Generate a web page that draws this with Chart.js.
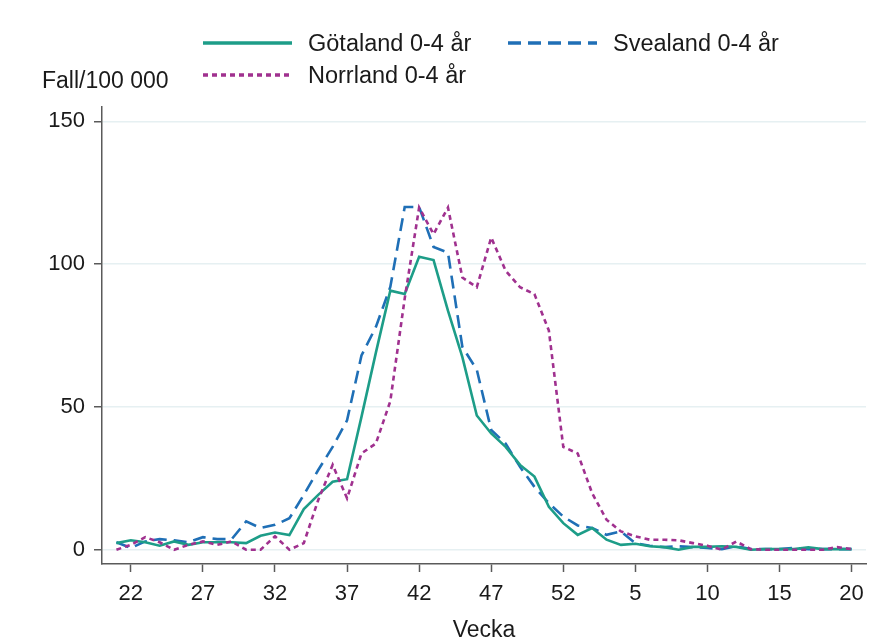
<!DOCTYPE html>
<html lang="sv">
<head>
<meta charset="utf-8">
<title>Fall/100 000 0-4 år</title>
<script src="https://cdn.jsdelivr.net/npm/chart.js@4.4.1/dist/chart.umd.min.js"></script>
<style>
    html, body { margin: 0; padding: 0; background: #fff; }
    #wrap { position: relative; width: 873px; height: 644px; font-family: "Liberation Sans", Arial, sans-serif; color: #1a1a1a; }
    #chart { position: absolute; left: 0; top: 0; }
    .legend-item { position: absolute; display: flex; align-items: center; font-size: 23.5px; white-space: nowrap; }
    .legend-item svg { margin-right: 16px; }
    #ytitle { position: absolute; left: 42px; top: 67px; font-size: 23px; }
</style>
</head>
<body>
<div id="wrap">
    <canvas id="chart" width="873" height="644"></canvas>
    <div id="ytitle">Fall/100 000</div>
    <div id="legend"></div>
</div>
<script>
// veckor 21-52 och 1-20
const weeks = [21, 22, 23, 24, 25, 26, 27, 28, 29, 30, 31, 32, 33, 34, 35, 36, 37, 38, 39, 40,
    41, 42, 43, 44, 45, 46, 47, 48, 49, 50, 51, 52, 1, 2, 3, 4, 5, 6, 7, 8,
    9, 10, 11, 12, 13, 14, 15, 16, 17, 18, 19, 20];

const gotaland = [2.3, 3.3, 2.6, 1.4, 2.9, 1.7, 2.6, 2.6, 2.6, 2.3, 4.9, 6.0, 5.1, 14.2, 19.2, 23.8, 24.7, 46.5, 69, 90.7,
    89.5, 102.6, 101.4, 83.7, 67.4, 47, 40.7, 36, 29.7, 25.6, 15, 9.3, 5.2, 7.6, 3.5, 1.7, 2.1, 1.2, 0.9, 0,
    1, 1, 1.2, 1, 0, 0.2, 0.2, 0.2, 0.8, 0.2, 0.2, 0.2];

const svealand = [2.6, 0.6, 2.9, 3.7, 3.3, 2.6, 4.4, 3.7, 3.7, 9.9, 7.6, 8.7, 11, 19.2, 27.9, 36, 45.3, 68, 78, 92,
    120, 120, 106, 104, 71, 63, 41.9, 37.2, 29, 22, 16.3, 11.6, 8.5, 7.6, 5.2, 6.4, 2.3, 1.4, 0.9, 1.2,
    0.9, 0.6, 0.2, 1.2, 0.2, 0.2, 0.2, 0.6, 0.2, 0.2, 0.2, 0.2];

const norrland = [0, 1.7, 4.4, 2.6, 0, 1.7, 2.9, 1.7, 2.9, 0, 0, 4.7, 0, 2.3, 17.4, 29.7, 18, 33.7, 37.2, 52,
    88, 119.8, 110.5, 119.8, 95.3, 91.9, 109.3, 97.7, 91.9, 89.5, 76.7, 36, 33.7, 19.8, 10.5, 6.4, 4.7, 3.5, 3.5, 3.3,
    2.3, 1.4, 0, 2.9, 0.2, 0, 0, 0, 0, 0, 0.9, 0.2];

const xTickLabels = [22, 27, 32, 37, 42, 47, 52, 5, 10, 15, 20];
const yTickLabels = [0, 50, 100, 150];

const seriesNames = ['Götaland 0-4 år', 'Svealand 0-4 år', 'Norrland 0-4 år'];
const seriesColors = ['#1d9d88', '#1f6fb6', '#a0318f'];
const seriesDash = [[], [13, 7], [5, 4]];

const FONT = '"Liberation Sans", Arial, sans-serif';
const AXIS_COLOR = '#5a5a5a';

function toPoints(values) {
    return values.map((v, i) => ({ x: i, y: v }));
}

const datasets = [gotaland, svealand, norrland].map((values, i) => ({
    label: seriesNames[i],
    data: toPoints(values),
    borderColor: seriesColors[i],
    backgroundColor: seriesColors[i],
    borderWidth: 2.6,
    borderDash: seriesDash[i],
    pointRadius: 0,
    tension: 0,
    fill: false
}));

// ritordning som i originalet: norrland under, götaland överst
datasets[0].order = 1;
datasets[1].order = 2;
datasets[2].order = 0;

new Chart(document.getElementById('chart'), {
    type: 'line',
    data: { datasets: datasets },
    options: {
        responsive: false,
        animation: false,
        events: [],
        layout: { padding: { top: 107, right: 7, left: 0, bottom: 0 } },
        plugins: {
            legend: { display: false },
            tooltip: { enabled: false }
        },
        scales: {
            x: {
                type: 'linear',
                min: -1,
                max: 52,
                afterBuildTicks: (scale) => {
                    scale.ticks = xTickLabels.map(w => ({ value: weeks.indexOf(w) }));
                },
                afterFit: (scale) => { scale.height = 80; },
                grid: {
                    drawOnChartArea: false,
                    drawTicks: true,
                    tickLength: 8,
                    tickColor: AXIS_COLOR,
                    tickWidth: 1.5
                },
                border: { color: AXIS_COLOR, width: 1.5 },
                ticks: {
                    autoSkip: false,
                    maxRotation: 0,
                    padding: 9,
                    color: '#1a1a1a',
                    font: { family: FONT, size: 22 },
                    callback: (value) => String(weeks[value])
                },
                title: {
                    display: true,
                    text: 'Vecka',
                    color: '#1a1a1a',
                    padding: { top: 0, bottom: 0 },
                    font: { family: FONT, size: 23 }
                }
            },
            y: {
                min: -5,
                max: 155,
                afterBuildTicks: (scale) => {
                    scale.ticks = yTickLabels.map(v => ({ value: v }));
                },
                afterFit: (scale) => { scale.width = 102; },
                grid: {
                    color: '#e6f0f2',
                    lineWidth: 1.5,
                    drawTicks: true,
                    tickLength: 8,
                    tickColor: AXIS_COLOR,
                    tickWidth: 1.5
                },
                border: { color: AXIS_COLOR, width: 1.5 },
                ticks: {
                    padding: 9,
                    color: '#1a1a1a',
                    font: { family: FONT, size: 22 }
                }
            }
        }
    }
});

// egen legend med linjeprover
const legendPos = [
    { left: 203, top: 28 },
    { left: 508, top: 28 },
    { left: 203, top: 60 }
];
const legendEl = document.getElementById('legend');
seriesNames.forEach((name, i) => {
    const item = document.createElement('div');
    item.className = 'legend-item';
    item.style.left = legendPos[i].left + 'px';
    item.style.top = legendPos[i].top + 'px';
    const dash = seriesDash[i].length ? `stroke-dasharray="${seriesDash[i].join(' ')}"` : '';
    item.innerHTML = `<svg width="89" height="30"><line x1="0" y1="15" x2="89" y2="15" stroke="${seriesColors[i]}" stroke-width="3.5" ${dash}/></svg><span>${name}</span>`;
    legendEl.appendChild(item);
});
</script>
</body>
</html>
